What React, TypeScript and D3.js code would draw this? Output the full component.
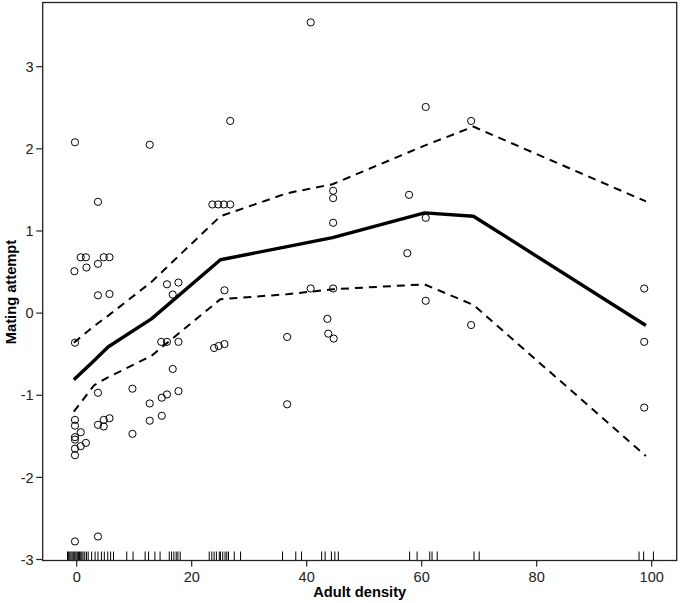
import * as d3 from 'd3';

// scatter points: adult density vs mating attempt
const pointX = [
  -0.4, -0.3, -0.3, -0.3, -0.3, 0.7, -0.3, -0.3, 1.6, 0.7, -0.3, -0.3, -0.3,
  0.7, 1.6, 1.7,
  3.7, 3.7, 3.7, 3.7, 3.7, 3.7,
  4.7, 4.7, 4.7,
  5.7, 5.7, 5.7,
  9.7, 9.7,
  12.7, 12.7, 12.7,
  14.8, 14.8, 14.7,
  15.7, 15.7, 15.7,
  16.7, 16.7,
  17.7, 17.7, 17.7,
  23.6, 24.6, 25.6, 26.7,
  25.7,
  23.9, 24.7, 25.7,
  26.7,
  36.6, 36.6,
  40.7, 40.7,
  44.6, 44.6, 44.6, 44.6,
  43.6, 43.75, 44.7,
  57.8, 57.5,
  60.7, 60.7, 60.7,
  68.6, 68.6,
  98.7, 98.7, 98.7,
];
const pointY = [
  0.51, 2.08, -0.36, -1.3, -1.37, -1.45, -1.51, -1.54, -1.58, -1.62, -1.65, -1.73, -2.78,
  0.68, 0.68, 0.555,
  1.355, 0.6, 0.217, -0.97, -1.36, -2.72,
  0.68, -1.38, -1.3,
  0.68, 0.233, -1.28,
  -0.92, -1.47,
  2.05, -1.1, -1.31,
  -1.03, -1.25, -0.35,
  0.351, -0.99, -0.35,
  0.226, -0.68,
  0.372, -0.95, -0.35,
  1.323, 1.323, 1.323, 1.323,
  0.278,
  -0.425, -0.4, -0.377,
  2.34,
  -0.29, -1.11,
  3.54, 0.3,
  1.49, 1.4, 1.1, 0.3,
  -0.07, -0.25, -0.31,
  1.44, 0.73,
  2.51, 1.16, 0.15,
  2.34, -0.145,
  0.3, -0.35, -1.15,
];

// fitted curve and its bounds
const fitX = [-0.5, 3, 5.5, 13, 25, 36.6, 44.5, 60.5, 69, 99];
const fitMean = [-0.81, -0.58, -0.41, -0.07, 0.65, 0.81, 0.92, 1.22, 1.18, -0.15];
const fitUpper = [-0.36, -0.16, -0.03, 0.38, 1.18, 1.46, 1.57, 2.04, 2.27, 1.36];
const fitLower = [-1.2, -0.88, -0.78, -0.52, 0.17, 0.23, 0.29, 0.35, 0.1, -1.74];

// rug of observed densities
const rugX = [
  -1.6, -1.4, -1.2, -1.0, -0.8, -0.6, -0.45, -0.3, -0.1, 0.1, 0.3, 0.5, 0.7, 0.9, 1.1, 1.4, 1.7, 2.0,
  2.6, 3.2, 3.7, 4.3, 4.8, 5.4, 5.9, 6.4, 8.7, 9.8, 11.9, 12.5, 13.6, 14.5,
  16.1, 16.5, 16.9, 17.3, 17.6, 18.0,
  23.05, 23.5, 23.9, 24.3, 24.8, 25.0, 25.4, 25.8, 26.1, 26.4, 27.4, 28.5,
  35.8, 38.1, 39.1, 42.6, 43.2, 44.3, 44.9, 45.5,
  57.9, 59.2, 61.4, 61.8, 62.7, 69.1, 70.0, 97.8, 98.6, 100.3,
];

const xTicks = [0, 20, 40, 60, 80, 100];
const yTicks = [-3, -2, -1, 0, 1, 2, 3];

const width = 680;
const height = 603;
const left = 42.7, right = 676.7, top = 2.5, bottom = 560.5;
const font = 'Liberation Sans, Arial, sans-serif';

export default function App() {
  const x = d3.scaleLinear().domain([-5.913, 104.35]).range([left, right]);
  const y = d3.scaleLinear().domain([-3.012, 3.782]).range([bottom, top]);

  const line = (vals: number[]) =>
    d3.line<number>()
      .x((_, i) => x(fitX[i]))
      .y(d => y(d))(vals) || '';

  return (
    <svg
      width={width}
      height={height}
      style={{ position: 'absolute', left: 0, top: 0, background: '#fff' }}
    >
      {/* rug */}
      {rugX.map((d, i) => (
        <line key={'r' + i} x1={x(d)} x2={x(d)} y1={bottom} y2={bottom - 9}
          stroke="#000" strokeWidth={1} />
      ))}

      {/* points */}
      {pointX.map((d, i) => (
        <circle key={'p' + i} cx={x(d)} cy={y(pointY[i])} r={3.6}
          fill="none" stroke="#000" strokeWidth={1} />
      ))}

      {/* fit lines */}
      <path d={line(fitUpper)} fill="none" stroke="#000" strokeWidth={2} strokeDasharray="8,6" />
      <path d={line(fitLower)} fill="none" stroke="#000" strokeWidth={2} strokeDasharray="8,6" />
      <path d={line(fitMean)} fill="none" stroke="#000" strokeWidth={3.4} strokeLinejoin="round" />

      {/* frame */}
      <rect x={left} y={top} width={right - left} height={bottom - top}
        fill="none" stroke="#222" strokeWidth={1.3} />

      {/* x axis */}
      {xTicks.map(t => (
        <g key={'x' + t}>
          <line x1={x(t)} x2={x(t)} y1={bottom} y2={bottom + 6} stroke="#222" strokeWidth={1.2} />
          <text x={x(t)} y={582} textAnchor="middle" fontFamily={font} fontSize={14.5} fill="#222">{t}</text>
        </g>
      ))}

      {/* y axis */}
      {yTicks.map(t => (
        <g key={'y' + t}>
          <line x1={left - 6.5} x2={left} y1={y(t)} y2={y(t)} stroke="#222" strokeWidth={1.2} />
          <text x={left - 9} y={y(t) + 5.2} textAnchor="end" fontFamily={font} fontSize={14.5} fill="#222">{t}</text>
        </g>
      ))}

      <text x={(left + right) / 2} y={597} textAnchor="middle" fontFamily={font}
        fontSize={14.7} fontWeight="bold" fill="#000">Adult density</text>
      <text transform={`translate(16,292) rotate(-90)`} textAnchor="middle"
        fontFamily={font} fontSize={14.7} fontWeight="bold" fill="#000">Mating attempt</text>
    </svg>
  );
}
